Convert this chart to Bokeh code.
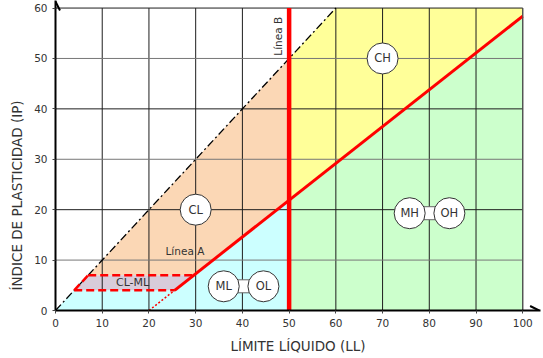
import math
from bokeh.plotting import figure
from bokeh.models import Range1d, Arrow, OpenHead, FixedTicker, Title
from bokeh.core.properties import value
from bokeh.embed import file_html
from bokeh.resources import INLINE

# ---- data ----
x_ticks = [0, 10, 20, 30, 40, 50, 60, 70, 80, 90, 100]
y_ticks = [0, 10, 20, 30, 40, 50, 60]

# Zones (LL, IP) polygons
cl_ll = [7, 29.6, 50, 50]
cl_ip = [7, 7, 21.9, 50]
ml_ll = [0, 4, 25.5, 50, 50]
ml_ip = [0, 4, 4, 21.9, 0]
clml_ll = [4, 25.5, 29.6, 7]
clml_ip = [4, 4, 7, 7]
ch_ll = [50, 100, 100, 60, 50]
ch_ip = [21.9, 58.4, 60, 60, 50]
mh_ll = [50, 100, 100, 50]
mh_ip = [0, 0, 58.4, 21.9]

# Lines
line_a_ll = [25.5, 100]
line_a_ip = [4, 58.4]
line_a_ext_ll = [20, 25.5]
line_a_ext_ip = [0, 4]
line_b_ll = [50, 50]
line_b_ip = [0, 60]
line_u_ll = [0, 60]
line_u_ip = [0, 60]
clml_top_ll = [7, 29.6]
clml_top_ip = [7, 7]
clml_bot_ll = [4, 25.5]
clml_bot_ip = [4, 4]
clml_left_ll = [4, 7]
clml_left_ip = [4, 7]

# Soil symbols
sym_names = ["CH", "CL", "ML", "OL", "MH", "OH"]
sym_ll = [70, 30, 36, 44.5, 75.8, 84.3]
sym_ip = [50, 20, 4.8, 4.8, 19.3, 19.3]
link_ll = [40.25, 80.05]
link_ip = [4.8, 19.3]

FONT = "DejaVu Sans"
TXT = "#333333"

p = figure(width=543, height=358,
           x_range=Range1d(0, 103.8), y_range=Range1d(0, 61.5),
           output_backend="svg", toolbar_location=None,
           min_border_left=55, min_border_right=3,
           min_border_top=0, min_border_bottom=48)
p.outline_line_color = None
p.xgrid.visible = False
p.ygrid.visible = False
p.background_fill_color = "white"

# zones
p.patch(ml_ll, ml_ip, fill_color="#CCFFFF", line_color=None)
p.patch(cl_ll, cl_ip, fill_color="#FBD7B5", line_color=None)
p.patch(clml_ll, clml_ip, fill_color="#D8CCDA", line_color=None)
p.patch(ch_ll, ch_ip, fill_color="#FFFF99", line_color=None)
p.patch(mh_ll, mh_ip, fill_color="#CCFFCC", line_color=None)

# grid
gx = x_ticks[1:]
p.segment(x0=gx, y0=[0] * len(gx), x1=gx, y1=[y_ticks[-1]] * len(gx),
          line_color="#1e1e1e", line_width=1)
gy = y_ticks[1:]
p.segment(x0=[0] * len(gy), y0=gy, x1=[x_ticks[-1]] * len(gy), y1=gy,
          line_color=["#1e1e1e" if v % 20 == 0 else "#777777" for v in gy],
          line_width=1)

# dashed diagonal
p.line(line_u_ll, line_u_ip, line_color="black", line_width=1.3, line_dash="8 3 2 3")

# red lines
p.line(line_a_ll, line_a_ip, line_color="#FF0000", line_width=3)
p.line(line_a_ext_ll, line_a_ext_ip, line_color="#FF0000", line_width=1.5, line_dash="2 2")
p.line(line_b_ll, line_b_ip, line_color="#FF0000", line_width=4.5)
for xs, ys in [(clml_top_ll, clml_top_ip), (clml_bot_ll, clml_bot_ip), (clml_left_ll, clml_left_ip)]:
    p.line(xs, ys, line_color="#FF0000", line_width=2.5, line_dash="8 4")

# symbol links and circles
p.rect(x=link_ll, y=link_ip, width=4, height=13, height_units="screen",
       fill_color="white", line_color="#666666", line_width=1)
p.scatter(sym_ll, sym_ip, size=31, marker="circle", fill_color="white",
          line_color="#333333", line_width=1)
p.text(sym_ll, sym_ip, text=sym_names, text_font=value(FONT), text_font_size="11.5px",
       text_color=TXT, text_align="center", text_baseline="middle")

# texts
p.text([16.5], [5.6], text=["CL-ML"], text_font=value(FONT), text_font_size="11px",
       text_color=TXT, text_align="center", text_baseline="middle")
p.text([27.7], [11.9], text=["Línea A"], text_font=value(FONT), text_font_size="10.5px",
       text_color=TXT, text_align="center", text_baseline="middle")
p.text([47.7], [54.4], text=["Línea B"], text_font=value(FONT), text_font_size="10.5px",
       text_color=TXT, text_align="center", text_baseline="middle", angle=math.pi / 2)

# right border
p.line([100, 100], [0, 60], line_color="#555555", line_width=1)

# axes
for ax in (p.xaxis[0], p.yaxis[0]):
    ax.axis_line_width = 2
    ax.axis_line_color = "black"
    ax.major_tick_in = 0
    ax.major_tick_out = 3
    ax.major_tick_line_color = "#444444"
    ax.minor_tick_line_color = None
    ax.major_label_text_font = FONT
    ax.major_label_text_font_size = "10.5px"
    ax.major_label_text_color = TXT
    ax.major_label_standoff = 5
    ax.axis_label_text_font = FONT
    ax.axis_label_text_font_style = "normal"
    ax.axis_label_text_color = TXT
    ax.axis_label_text_font_size = "13.5px"
p.xaxis.ticker = FixedTicker(ticks=x_ticks)
p.yaxis.ticker = FixedTicker(ticks=y_ticks)
p.xaxis.axis_label = "LÍMITE LÍQUIDO (LL)"
p.xaxis.axis_label_standoff = 8

p.add_layout(Title(text="ÍNDICE DE PLASTICIDAD (IP)", align="left", offset=20,
                   text_font=FONT, text_font_size="13.5px", text_color=TXT,
                   text_font_style="normal", standoff=13), "left")

# arrow heads
p.add_layout(Arrow(end=OpenHead(size=9, line_width=2, line_color="black"),
                   x_start=100, y_start=0, x_end=103.5, y_end=0, line_alpha=0))
p.add_layout(Arrow(end=OpenHead(size=9, line_width=2, line_color="black"),
                   x_start=0, y_start=60, x_end=0, y_end=61.3, line_alpha=0))

open("out.html", "w").write(file_html(p, INLINE))
